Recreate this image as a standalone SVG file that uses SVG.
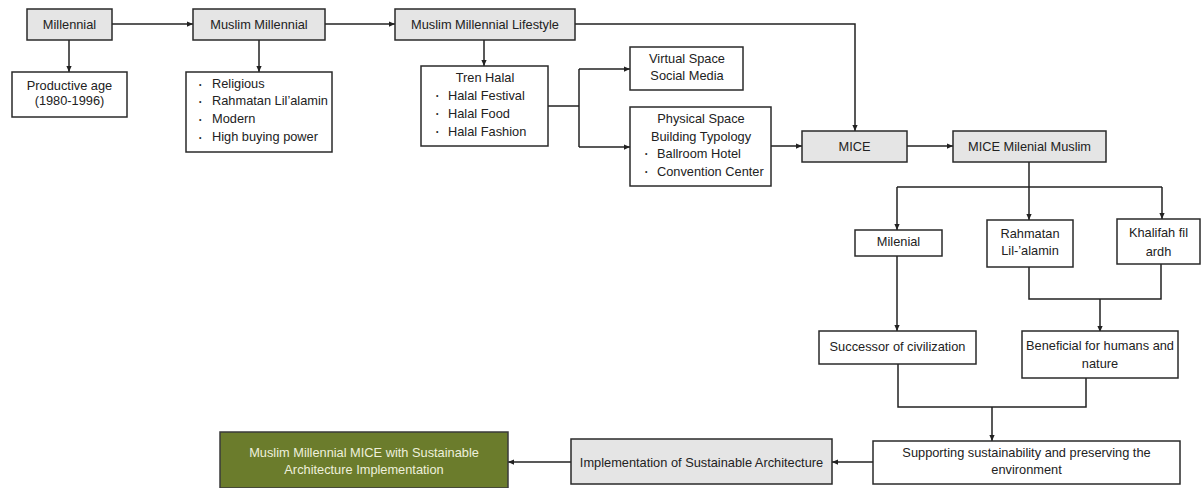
<svg xmlns="http://www.w3.org/2000/svg" width="1202" height="488" viewBox="0 0 1202 488">
<style>
.box{fill:#fff;stroke:#2a2a2a;stroke-width:1.5}
.gray{fill:#e5e5e5;stroke:#2a2a2a;stroke-width:1.5}
.green{fill:#6b7c2c;stroke:#3a3a3a;stroke-width:1.5}
text{font-family:"Liberation Sans",Arial,sans-serif;font-size:12.8px;fill:#222}
.c{text-anchor:middle}
.w{fill:#eef0dc}
.b{font-size:7px}
.ln{fill:none;stroke:#222;stroke-width:1.5}
</style>
<defs>
<marker id="ah" viewBox="0 0 8 8" refX="8" refY="4" markerWidth="6" markerHeight="6" orient="auto" markerUnits="userSpaceOnUse">
<path d="M0,0.5 L8,4 L0,7.5 Z" fill="#222"/>
</marker>
</defs>
<rect width="1202" height="488" fill="#fff"/>
<g id="connectors">
<path class="ln" d="M112,24 H193" marker-end="url(#ah)"/>
<path class="ln" d="M69,40 V72" marker-end="url(#ah)"/>
<path class="ln" d="M325,24 H395" marker-end="url(#ah)"/>
<path class="ln" d="M259,40 V72" marker-end="url(#ah)"/>
<path class="ln" d="M575,24 H855 V131" marker-end="url(#ah)"/>
<path class="ln" d="M484,40 V66" marker-end="url(#ah)"/>
<path class="ln" d="M548,106 H579"/>
<path class="ln" d="M579,69 V147"/>
<path class="ln" d="M579,69 H630" marker-end="url(#ah)"/>
<path class="ln" d="M579,147 H630" marker-end="url(#ah)"/>
<path class="ln" d="M771,146 H802" marker-end="url(#ah)"/>
<path class="ln" d="M907,146 H953" marker-end="url(#ah)"/>
<path class="ln" d="M1029,162 V187"/>
<path class="ln" d="M897,187 H1162"/>
<path class="ln" d="M897,187 V230" marker-end="url(#ah)"/>
<path class="ln" d="M1029,187 V220" marker-end="url(#ah)"/>
<path class="ln" d="M1162,187 V219" marker-end="url(#ah)"/>
<path class="ln" d="M1029,267 V299 H1161 V264"/>
<path class="ln" d="M1100,299 V332" marker-end="url(#ah)"/>
<path class="ln" d="M897,256 V331" marker-end="url(#ah)"/>
<path class="ln" d="M898,364 V407 H1086 V378"/>
<path class="ln" d="M992,407 V441" marker-end="url(#ah)"/>
<path class="ln" d="M873,462 H832" marker-end="url(#ah)"/>
<path class="ln" d="M571,462 H508" marker-end="url(#ah)"/>
</g>
<g id="millennial"><rect class="gray" x="27" y="9" width="85" height="31"/><text class="c" x="69.5" y="28.5">Millennial</text></g>
<g id="productive"><rect class="box" x="12" y="72" width="115" height="45"/><text class="c" x="69.5" y="89.5">Productive age</text><text class="c" x="69.5" y="104.5">(1980-1996)</text></g>
<g id="muslim-millennial"><rect class="gray" x="193" y="9" width="132" height="31"/><text class="c" x="259" y="28.5">Muslim Millennial</text></g>
<g id="traits"><rect class="box" x="186" y="72" width="146" height="80"/>
<text class="b" x="199" y="87">•</text><text x="212" y="88">Religious</text>
<text class="b" x="199" y="104">•</text><text x="212" y="105">Rahmatan Lil’alamin</text>
<text class="b" x="199" y="122">•</text><text x="212" y="123">Modern</text>
<text class="b" x="199" y="140">•</text><text x="212" y="141">High buying power</text></g>
<g id="lifestyle"><rect class="gray" x="395" y="9" width="180" height="31"/><text class="c" x="485" y="28.5">Muslim Millennial Lifestyle</text></g>
<g id="tren-halal"><rect class="box" x="421" y="66" width="127" height="80"/>
<text class="c" x="485" y="81.5">Tren Halal</text>
<text class="b" x="436" y="98">•</text><text x="448" y="99.5">Halal Festival</text>
<text class="b" x="436" y="116">•</text><text x="448" y="117.5">Halal Food</text>
<text class="b" x="436" y="134">•</text><text x="448" y="135.5">Halal Fashion</text></g>
<g id="virtual"><rect class="box" x="630" y="47" width="113" height="43"/><text class="c" x="687" y="62.5">Virtual Space</text><text class="c" x="687" y="79.5">Social Media</text></g>
<g id="physical"><rect class="box" x="630" y="107" width="141" height="79"/>
<text class="c" x="701" y="122.5">Physical Space</text>
<text class="c" x="701" y="140.5">Building Typology</text>
<text class="b" x="645" y="156">•</text><text x="657" y="157.5">Ballroom Hotel</text>
<text class="b" x="645" y="174">•</text><text x="657" y="175.5">Convention Center</text></g>
<g id="mice"><rect class="gray" x="802" y="131" width="105" height="31"/><text class="c" x="854.5" y="150.5">MICE</text></g>
<g id="mice-muslim"><rect class="gray" x="953" y="131" width="153" height="31"/><text class="c" x="1029.5" y="150.5">MICE Milenial Muslim</text></g>
<g id="milenial"><rect class="box" x="855" y="230" width="87" height="26"/><text class="c" x="898.5" y="245.5">Milenial</text></g>
<g id="rahmatan"><rect class="box" x="987" y="220" width="86" height="47"/><text class="c" x="1030" y="237.5">Rahmatan</text><text class="c" x="1030" y="254.5">Lil-’alamin</text></g>
<g id="khalifah"><rect class="box" x="1117" y="219" width="83" height="45"/><text class="c" x="1158.5" y="236.5">Khalifah fil</text><text class="c" x="1158.5" y="256">ardh</text></g>
<g id="successor"><rect class="box" x="819" y="331" width="157" height="33"/><text class="c" x="897.5" y="350.5">Successor of civilization</text></g>
<g id="beneficial"><rect class="box" x="1022" y="331" width="156" height="47"/><text class="c" x="1100" y="349.5">Beneficial for humans and</text><text class="c" x="1100" y="367.5">nature</text></g>
<g id="supporting"><rect class="box" x="873" y="441" width="307" height="43"/><text class="c" x="1026.5" y="456.5">Supporting sustainability and preserving the</text><text class="c" x="1026.5" y="473.5">environment</text></g>
<g id="implementation"><rect class="gray" x="571" y="439" width="261" height="45"/><text class="c" x="701.5" y="466.5">Implementation of Sustainable Architecture</text></g>
<g id="result"><rect class="green" x="220" y="432" width="288" height="56"/><text class="c w" x="364" y="456.5">Muslim Millennial MICE with Sustainable</text><text class="c w" x="364" y="473.5">Architecture Implementation</text></g>
</svg>
